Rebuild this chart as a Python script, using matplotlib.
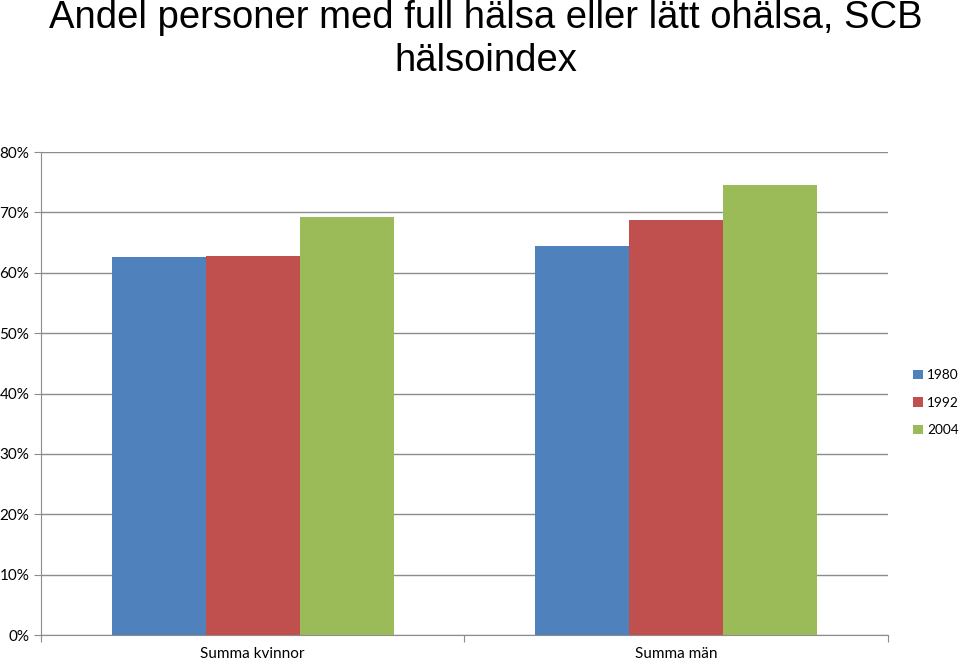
import numpy as np
import matplotlib.pyplot as plt
from matplotlib.ticker import PercentFormatter

# Data (percent)
categories = ['Summa kvinnor', 'Summa män']
years = ['1980', '1992', '2004']
values = {
    '1980': [62.6, 64.4],
    '1992': [62.8, 68.7],
    '2004': [69.2, 74.5],
}
colors = ['#4F81BD', '#C0504D', '#9BBB59']

fig = plt.figure(figsize=(9.6, 6.61), dpi=100)
ax = fig.add_axes([0.0427, 0.0393, 0.8823, 0.7307])

x = np.arange(len(categories))
w = 1 / 4.5
for i, (yr, col) in enumerate(zip(years, colors)):
    ax.bar(x + (i - 1) * w, values[yr], width=w, color=col, label=yr, zorder=3)

ax.set_xlim(-0.5, len(categories) - 0.5)
ax.set_ylim(0, 80)
ax.set_yticks(np.arange(0, 81, 10))
ax.yaxis.set_major_formatter(PercentFormatter(decimals=0))
ax.grid(axis='y', color='#8c8c8c', linewidth=1, zorder=0)

# category boundary ticks like Excel
ax.set_xticks([-0.5, 0.5, 1.5])
ax.set_xticklabels([])
ax.set_xticks(x, minor=True)
ax.set_xticklabels(categories, minor=True, fontsize=11, family='Lato')
ax.tick_params(axis='x', which='major', length=5, color='#8c8c8c')
ax.tick_params(axis='x', which='minor', length=0, pad=8.5)
ax.tick_params(axis='y', length=5, color='#8c8c8c', labelsize=11)
for lab in ax.get_yticklabels():
    lab.set_family('Lato')

for s in ['top', 'right']:
    ax.spines[s].set_visible(False)
ax.spines['left'].set_color('#8c8c8c')
ax.spines['bottom'].set_color('#8c8c8c')

fig.text(0.506, 1.0, 'Andel personer med full hälsa eller lätt ohälsa, SCB\nhälsoindex',
         ha='center', va='top', fontsize=27.5, family='Liberation Sans', linespacing=1.25)

ax.legend(loc='center left', bbox_to_anchor=(1.03, 0.481), frameon=False,
          prop={'family': 'Lato', 'size': 9.8}, handlelength=0.7, handleheight=0.7,
          handletextpad=0.3, labelspacing=1.15, borderaxespad=0, borderpad=0)

fig.savefig('out.png', dpi=100)
